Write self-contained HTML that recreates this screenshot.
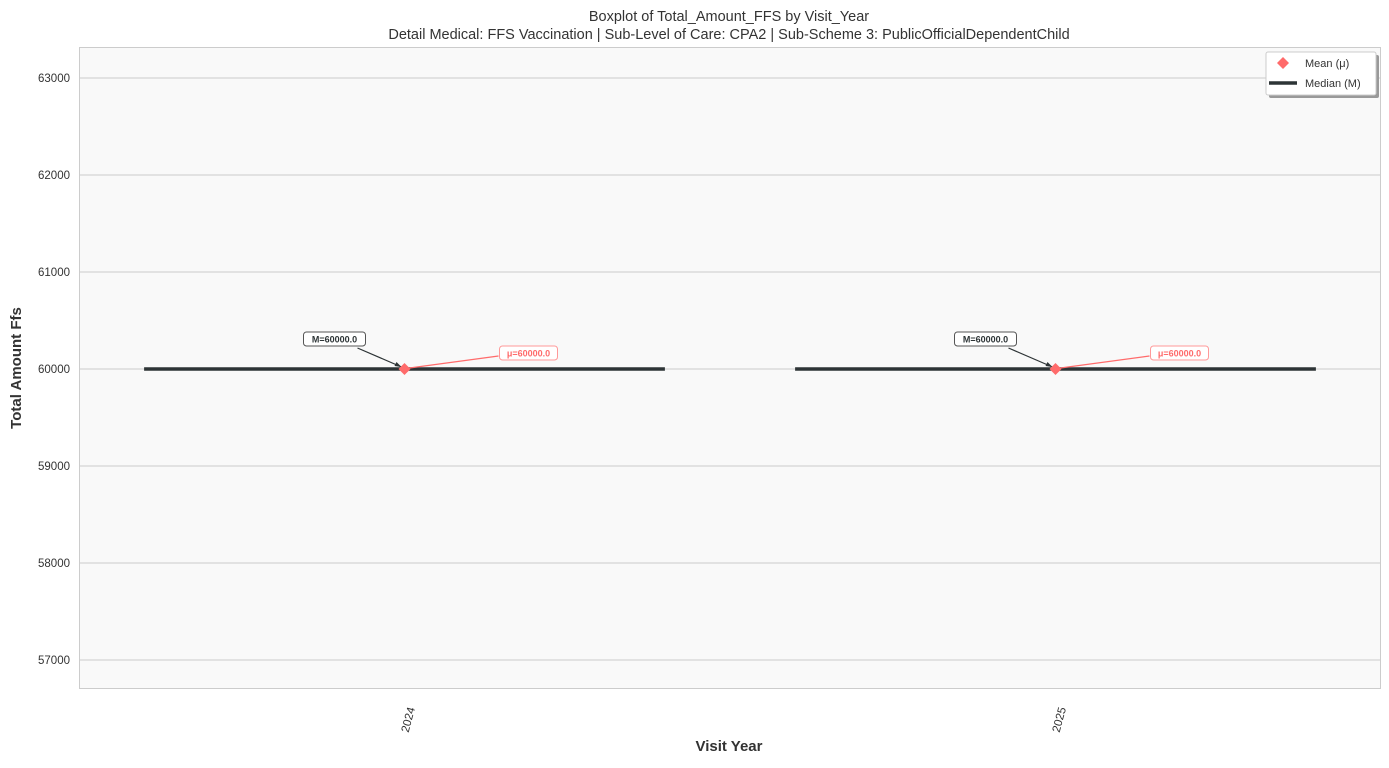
<!DOCTYPE html>
<html><head><meta charset="utf-8"><style>
body{margin:0;background:#fff;font-family:"Liberation Sans",Arial,sans-serif}
svg text{font-family:"Liberation Sans",Arial,sans-serif}
</style></head><body>
<svg id="chart" width="1389" height="763" xmlns="http://www.w3.org/2000/svg">
<rect width="1389" height="763" fill="#fff"/>
<text x="729" y="21" text-anchor="middle" font-size="14.5" fill="#333">Boxplot of Total_Amount_FFS by Visit_Year</text>
<text x="729" y="39" text-anchor="middle" font-size="14.5" fill="#333">Detail Medical: FFS Vaccination | Sub-Level of Care: CPA2 | Sub-Scheme 3: PublicOfficialDependentChild</text>
<rect x="79.5" y="47.5" width="1301" height="641" fill="#f9f9f9" stroke="#ccc"/>
<g id="grid"></g>
<g id="yticks"></g>
<g id="xticks"></g>
<g id="marks"></g>
<text transform="translate(21,368) rotate(-90)" text-anchor="middle" font-size="15" font-weight="bold" fill="#333">Total Amount Ffs</text>
<text x="729" y="751" text-anchor="middle" font-size="15" font-weight="bold" fill="#333">Visit Year</text>
<g>
<rect x="1269" y="55" width="110" height="43" rx="2" fill="#999"/>
<rect x="1266" y="52" width="110" height="43" rx="2" fill="#fff" stroke="#ccc"/>
<path d="M1283 57 L1289 63 L1283 69 L1277 63 Z" fill="#ff6b6b"/>
<text x="1305" y="67" font-size="11" fill="#333">Mean (μ)</text>
<line x1="1269" y1="83" x2="1297" y2="83" stroke="#2d3436" stroke-width="3.5"/>
<text x="1305" y="87" font-size="11" fill="#333">Median (M)</text>
</g>
</svg>
<script>
const categories=["2024","2025"];
const medians=[60000,60000];
const means=[60000,60000];
const yTicks=[57000,58000,59000,60000,61000,62000,63000];
const NS="http://www.w3.org/2000/svg";
const X0=79,X1=1381;
function x(i){return X0+(i+0.5)*(X1-X0)/categories.length;}
function y(v){return 369-(v-60000)*0.097;}
function mk(p,t,a){const e=document.createElementNS(NS,t);for(const k in a)e.setAttribute(k,a[k]);p.appendChild(e);return e;}
const grid=document.getElementById('grid'),yt=document.getElementById('yticks'),xt=document.getElementById('xticks'),marks=document.getElementById('marks');
yTicks.forEach(v=>{
 const l=mk(grid,'line',{x1:80,x2:1380,y1:y(v),y2:y(v),stroke:'#ccc','stroke-width':1});
 
 
 const t=mk(yt,'text',{x:70,y:y(v)+4,'text-anchor':'end','font-size':11.5,fill:'#333'});
 t.textContent=v;
 
 
});
const bw=0.8*(X1-X0)/categories.length;
categories.forEach((c,i)=>{
 const cx=x(i);
 const t=mk(xt,'text',{transform:`translate(${cx+4},${733}) rotate(-75)`,'font-size':11.5,fill:'#333'});
 t.textContent=c;
 
 
 const m=mk(marks,'line',{x1:cx-bw/2,x2:cx+bw/2,y1:y(medians[i]),y2:y(medians[i]),stroke:'#2d3436','stroke-width':3.5});
 
 
 const my=y(means[i]),md=y(medians[i]);
 // median annotation
 const a1=mk(marks,'line',{x1:cx-47,y1:md-21,x2:cx-3,y2:md-2,stroke:'#2d3436','stroke-width':1.2});
 
 
 mk(marks,'path',{d:`M${cx-3} ${md-2} l-7 -1 l2 -4 z`,fill:'#2d3436'});
 const b1=mk(marks,'rect',{x:cx-101,y:md-37,width:62,height:14,rx:3,fill:'#fff',stroke:'#555'});
 
 
 const t1=mk(marks,'text',{x:cx-70,y:md-26.5,'text-anchor':'middle','font-size':9,'font-weight':'bold',fill:'#2d3436'});
 t1.textContent='M='+medians[i].toFixed(1);
 
 
 // mean annotation
 const a2=mk(marks,'line',{x1:cx+94,y1:my-13,x2:cx+5,y2:my-1,stroke:'#ff6b6b','stroke-width':1.2});
 
 
 const b2=mk(marks,'rect',{x:cx+95,y:my-23,width:58,height:14,rx:3,fill:'#fff',stroke:'#ff9999'});
 
 
 const t2=mk(marks,'text',{x:cx+124,y:my-12.5,'text-anchor':'middle','font-size':9,'font-weight':'bold',fill:'#ff6b6b'});
 t2.textContent='μ='+means[i].toFixed(1);
 
 
 const d=mk(marks,'path',{d:`M${cx} ${my-6} L${cx+6} ${my} L${cx} ${my+6} L${cx-6} ${my} Z`,fill:'#ff6b6b'});
 
 
});
</script>
</body></html>
